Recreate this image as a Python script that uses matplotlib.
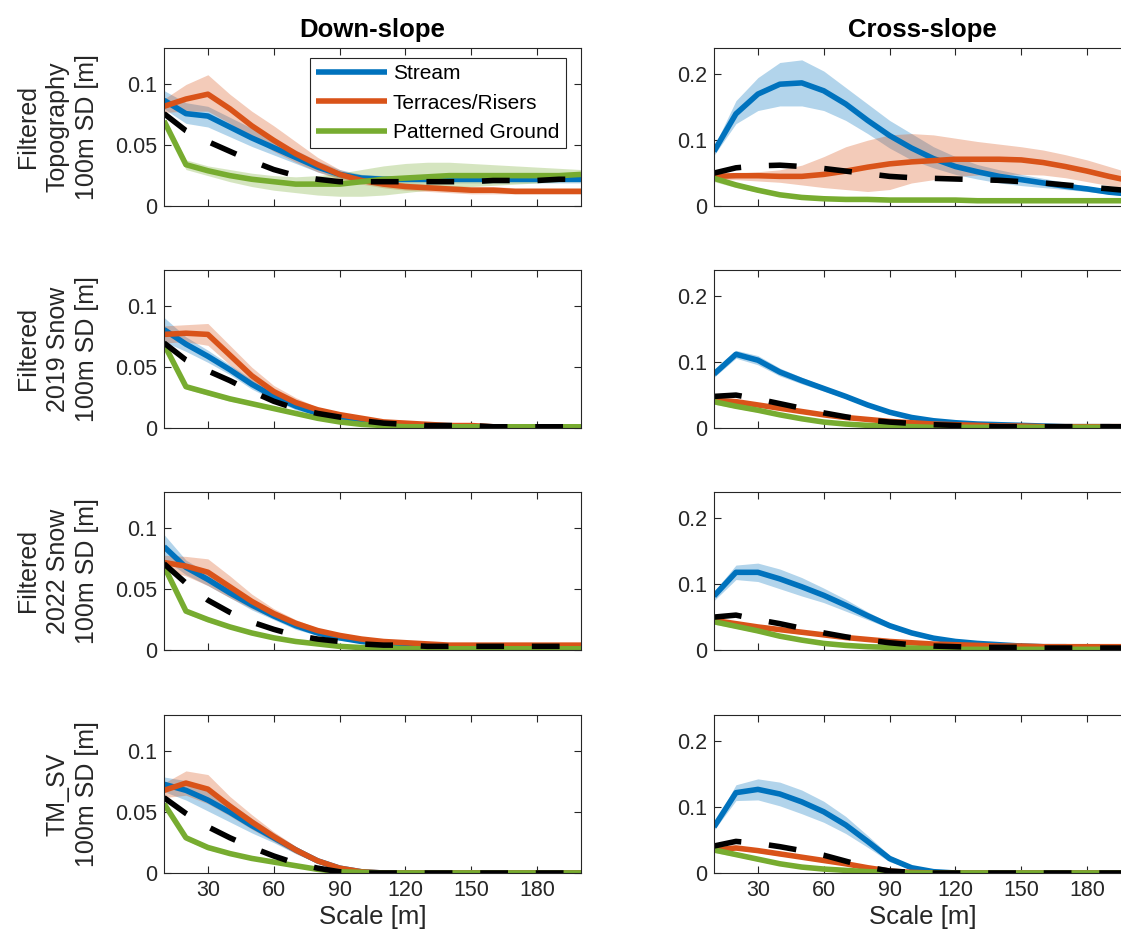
import matplotlib
matplotlib.use("Agg")
import matplotlib.pyplot as plt
import numpy as np

plt.rcParams['font.family'] = ['Liberation Sans', 'DejaVu Sans']

# scale [m]
scale = [10, 20, 30, 40, 50, 60, 70, 80, 90, 100, 110, 120, 130, 140, 150, 160, 170, 180, 190, 200]

names = ['Stream', 'Terraces/Risers', 'Patterned Ground']
c_stream = '#0072BD'
c_terr = '#D95319'
c_pat = '#77AC30'

row_labels = ['Filtered\nTopography\n100m SD [m]', 'Filtered\n2019 Snow\n100m SD [m]',
              'Filtered\n2022 Snow\n100m SD [m]', 'TM_SV\n100m SD [m]']
col_titles = ['Down-slope', 'Cross-slope']

# ---- row 1: topography (bands given as lower/upper) ----
topo_down_stream = [0.087, 0.076, 0.074, 0.065, 0.056, 0.048, 0.040, 0.032, 0.026, 0.023, 0.022, 0.022, 0.022, 0.022, 0.022, 0.022, 0.022, 0.022, 0.022, 0.022]
topo_down_stream_lo = [0.080, 0.068, 0.065, 0.057, 0.049, 0.042, 0.035, 0.028, 0.023, 0.020, 0.019, 0.019, 0.019, 0.019, 0.019, 0.019, 0.019, 0.019, 0.019, 0.019]
topo_down_stream_hi = [0.095, 0.085, 0.082, 0.073, 0.064, 0.055, 0.046, 0.037, 0.030, 0.026, 0.025, 0.025, 0.025, 0.025, 0.025, 0.025, 0.025, 0.025, 0.025, 0.025]
topo_down_terr = [0.082, 0.088, 0.092, 0.080, 0.066, 0.054, 0.043, 0.034, 0.026, 0.021, 0.018, 0.016, 0.015, 0.014, 0.013, 0.013, 0.012, 0.012, 0.012, 0.012]
topo_down_terr_lo = [0.077, 0.078, 0.078, 0.068, 0.056, 0.045, 0.036, 0.028, 0.022, 0.018, 0.015, 0.013, 0.012, 0.011, 0.010, 0.010, 0.010, 0.010, 0.010, 0.010]
topo_down_terr_hi = [0.088, 0.100, 0.108, 0.092, 0.078, 0.066, 0.053, 0.040, 0.030, 0.024, 0.021, 0.019, 0.018, 0.017, 0.016, 0.016, 0.015, 0.015, 0.015, 0.015]
topo_down_pat = [0.070, 0.034, 0.029, 0.025, 0.022, 0.020, 0.018, 0.018, 0.018, 0.020, 0.022, 0.023, 0.024, 0.025, 0.025, 0.025, 0.025, 0.025, 0.025, 0.026]
topo_down_pat_lo = [0.068, 0.030, 0.025, 0.020, 0.016, 0.013, 0.011, 0.009, 0.008, 0.008, 0.009, 0.011, 0.013, 0.015, 0.016, 0.017, 0.018, 0.019, 0.020, 0.020]
topo_down_pat_hi = [0.072, 0.038, 0.033, 0.030, 0.027, 0.025, 0.024, 0.025, 0.027, 0.030, 0.033, 0.035, 0.036, 0.036, 0.035, 0.034, 0.033, 0.032, 0.031, 0.030]
topo_down_all = [0.076, 0.062, 0.053, 0.045, 0.037, 0.030, 0.025, 0.022, 0.020, 0.020, 0.020, 0.020, 0.020, 0.020, 0.020, 0.021, 0.021, 0.021, 0.022, 0.022]

topo_cross_stream = [0.083, 0.140, 0.170, 0.185, 0.187, 0.175, 0.155, 0.130, 0.107, 0.088, 0.072, 0.060, 0.052, 0.045, 0.040, 0.035, 0.030, 0.026, 0.021, 0.018]
topo_cross_stream_lo = [0.077, 0.125, 0.145, 0.152, 0.152, 0.145, 0.130, 0.110, 0.088, 0.070, 0.058, 0.048, 0.041, 0.035, 0.031, 0.028, 0.025, 0.022, 0.018, 0.015]
topo_cross_stream_hi = [0.090, 0.160, 0.195, 0.218, 0.222, 0.205, 0.180, 0.155, 0.130, 0.110, 0.090, 0.075, 0.063, 0.055, 0.048, 0.042, 0.036, 0.030, 0.025, 0.021]
topo_cross_terr = [0.045, 0.046, 0.046, 0.045, 0.045, 0.048, 0.053, 0.059, 0.064, 0.067, 0.069, 0.071, 0.071, 0.071, 0.070, 0.066, 0.060, 0.053, 0.045, 0.038]
topo_cross_terr_lo = [0.040, 0.040, 0.038, 0.036, 0.032, 0.028, 0.025, 0.022, 0.025, 0.035, 0.040, 0.045, 0.047, 0.048, 0.048, 0.047, 0.043, 0.037, 0.031, 0.027]
topo_cross_terr_hi = [0.048, 0.050, 0.052, 0.055, 0.062, 0.075, 0.090, 0.100, 0.108, 0.110, 0.108, 0.103, 0.098, 0.094, 0.090, 0.085, 0.078, 0.070, 0.060, 0.050]
topo_cross_pat = [0.042, 0.032, 0.024, 0.017, 0.013, 0.011, 0.010, 0.010, 0.009, 0.009, 0.009, 0.009, 0.008, 0.008, 0.008, 0.008, 0.008, 0.008, 0.008, 0.008]
topo_cross_pat_lo = [0.037, 0.028, 0.021, 0.015, 0.011, 0.009, 0.008, 0.008, 0.007, 0.007, 0.007, 0.007, 0.006, 0.006, 0.006, 0.006, 0.006, 0.006, 0.006, 0.006]
topo_cross_pat_hi = [0.046, 0.036, 0.027, 0.020, 0.015, 0.013, 0.012, 0.012, 0.011, 0.011, 0.011, 0.011, 0.010, 0.010, 0.010, 0.010, 0.010, 0.010, 0.010, 0.010]
topo_cross_all = [0.050, 0.058, 0.061, 0.062, 0.060, 0.057, 0.053, 0.049, 0.045, 0.043, 0.042, 0.041, 0.040, 0.039, 0.037, 0.035, 0.032, 0.029, 0.026, 0.023]

# ---- rows 2-4: snow / TM_SV (bands given as half-width) ----
snow19_down_stream = [0.081, 0.069, 0.059, 0.048, 0.036, 0.026, 0.018, 0.012, 0.008, 0.005, 0.003, 0.002, 0.002, 0.002, 0.001, 0.001, 0.001, 0.001, 0.001, 0.001]
snow19_down_stream_sd = [0.010, 0.006, 0.005, 0.004, 0.004, 0.003, 0.003, 0.002, 0.002, 0.001, 0.001, 0.001, 0.001, 0.001, 0.001, 0.001, 0.001, 0.001, 0.001, 0.001]
snow19_down_terr = [0.077, 0.078, 0.077, 0.060, 0.043, 0.030, 0.021, 0.015, 0.011, 0.008, 0.005, 0.004, 0.003, 0.002, 0.002, 0.001, 0.001, 0.001, 0.001, 0.001]
snow19_down_terr_sd = [0.007, 0.007, 0.009, 0.008, 0.007, 0.005, 0.004, 0.002, 0.002, 0.001, 0.001, 0.001, 0.001, 0.001, 0.001, 0.001, 0.001, 0.001, 0.001, 0.001]
snow19_down_pat = [0.069, 0.034, 0.029, 0.024, 0.020, 0.016, 0.012, 0.008, 0.005, 0.003, 0.002, 0.001, 0.001, 0.001, 0.001, 0.001, 0.001, 0.001, 0.001, 0.001]
snow19_down_pat_sd = [0.002, 0.002, 0.002, 0.002, 0.001, 0.001, 0.001, 0.001, 0.001, 0.001, 0.001, 0.001, 0.001, 0.001, 0.001, 0.001, 0.001, 0.001, 0.001, 0.001]
snow19_down_all = [0.070, 0.056, 0.047, 0.039, 0.030, 0.022, 0.016, 0.012, 0.009, 0.006, 0.004, 0.003, 0.002, 0.002, 0.002, 0.001, 0.001, 0.001, 0.001, 0.001]

snow19_cross_stream = [0.082, 0.112, 0.103, 0.085, 0.072, 0.060, 0.048, 0.035, 0.024, 0.016, 0.011, 0.008, 0.006, 0.005, 0.004, 0.003, 0.002, 0.002, 0.002, 0.001]
snow19_cross_stream_sd = [0.005, 0.006, 0.007, 0.006, 0.005, 0.004, 0.003, 0.002, 0.002, 0.001, 0.001, 0.001, 0.001, 0.001, 0.001, 0.001, 0.001, 0.001, 0.001, 0.001]
snow19_cross_terr = [0.042, 0.040, 0.035, 0.030, 0.025, 0.020, 0.016, 0.013, 0.010, 0.008, 0.006, 0.005, 0.004, 0.003, 0.003, 0.002, 0.002, 0.002, 0.002, 0.002]
snow19_cross_terr_sd = [0.003, 0.003, 0.003, 0.002, 0.002, 0.002, 0.001, 0.001, 0.001, 0.001, 0.001, 0.001, 0.001, 0.001, 0.001, 0.001, 0.001, 0.001, 0.001, 0.001]
snow19_cross_pat = [0.040, 0.033, 0.027, 0.020, 0.014, 0.009, 0.006, 0.004, 0.003, 0.002, 0.001, 0.001, 0.001, 0.001, 0.001, 0.001, 0.001, 0.001, 0.001, 0.001]
snow19_cross_pat_sd = [0.004, 0.003, 0.003, 0.002, 0.002, 0.001, 0.001, 0.001, 0.001, 0.001, 0.001, 0.001, 0.001, 0.001, 0.001, 0.001, 0.001, 0.001, 0.001, 0.001]
snow19_cross_all = [0.048, 0.050, 0.044, 0.037, 0.030, 0.023, 0.017, 0.012, 0.009, 0.007, 0.005, 0.004, 0.003, 0.002, 0.002, 0.002, 0.002, 0.002, 0.002, 0.002]

snow22_down_stream = [0.085, 0.068, 0.058, 0.047, 0.037, 0.028, 0.020, 0.014, 0.010, 0.007, 0.005, 0.004, 0.003, 0.003, 0.003, 0.003, 0.003, 0.003, 0.003, 0.003]
snow22_down_stream_sd = [0.010, 0.006, 0.005, 0.004, 0.004, 0.003, 0.003, 0.002, 0.002, 0.001, 0.001, 0.001, 0.001, 0.001, 0.001, 0.001, 0.001, 0.001, 0.001, 0.001]
snow22_down_terr = [0.072, 0.069, 0.064, 0.052, 0.040, 0.030, 0.022, 0.016, 0.012, 0.009, 0.007, 0.006, 0.005, 0.004, 0.004, 0.004, 0.004, 0.004, 0.004, 0.004]
snow22_down_terr_sd = [0.006, 0.008, 0.011, 0.009, 0.006, 0.004, 0.003, 0.002, 0.002, 0.001, 0.001, 0.001, 0.001, 0.001, 0.001, 0.001, 0.001, 0.001, 0.001, 0.001]
snow22_down_pat = [0.069, 0.032, 0.025, 0.019, 0.014, 0.010, 0.007, 0.005, 0.003, 0.002, 0.002, 0.001, 0.001, 0.001, 0.001, 0.001, 0.001, 0.001, 0.001, 0.001]
snow22_down_pat_sd = [0.002, 0.002, 0.002, 0.001, 0.001, 0.001, 0.001, 0.001, 0.001, 0.001, 0.001, 0.001, 0.001, 0.001, 0.001, 0.001, 0.001, 0.001, 0.001, 0.001]
snow22_down_all = [0.071, 0.055, 0.041, 0.031, 0.023, 0.017, 0.012, 0.009, 0.007, 0.005, 0.004, 0.004, 0.003, 0.003, 0.003, 0.003, 0.003, 0.003, 0.003, 0.003]

snow22_cross_stream = [0.082, 0.118, 0.118, 0.108, 0.096, 0.083, 0.068, 0.052, 0.037, 0.026, 0.018, 0.013, 0.010, 0.008, 0.006, 0.005, 0.005, 0.004, 0.004, 0.004]
snow22_cross_stream_sd = [0.007, 0.011, 0.014, 0.015, 0.014, 0.011, 0.009, 0.006, 0.004, 0.003, 0.002, 0.001, 0.001, 0.001, 0.001, 0.001, 0.001, 0.001, 0.001, 0.001]
snow22_cross_terr = [0.045, 0.040, 0.035, 0.031, 0.027, 0.023, 0.019, 0.016, 0.013, 0.011, 0.009, 0.008, 0.007, 0.006, 0.006, 0.005, 0.005, 0.005, 0.005, 0.005]
snow22_cross_terr_sd = [0.004, 0.003, 0.003, 0.003, 0.003, 0.002, 0.002, 0.002, 0.001, 0.001, 0.001, 0.001, 0.001, 0.001, 0.001, 0.001, 0.001, 0.001, 0.001, 0.001]
snow22_cross_pat = [0.043, 0.036, 0.029, 0.021, 0.015, 0.010, 0.007, 0.005, 0.004, 0.003, 0.002, 0.001, 0.001, 0.001, 0.001, 0.001, 0.001, 0.001, 0.001, 0.001]
snow22_cross_pat_sd = [0.004, 0.003, 0.003, 0.002, 0.002, 0.001, 0.001, 0.001, 0.001, 0.001, 0.001, 0.001, 0.001, 0.001, 0.001, 0.001, 0.001, 0.001, 0.001, 0.001]
snow22_cross_all = [0.050, 0.053, 0.046, 0.040, 0.033, 0.026, 0.020, 0.015, 0.011, 0.008, 0.006, 0.005, 0.004, 0.004, 0.004, 0.003, 0.003, 0.003, 0.003, 0.003]

tmsv_down_stream = [0.073, 0.068, 0.060, 0.050, 0.039, 0.029, 0.019, 0.010, 0.004, 0.001, 0.0, 0.0, 0.0, 0.0, 0.0, 0.0, 0.0, 0.0, 0.0, 0.0]
tmsv_down_stream_sd = [0.006, 0.008, 0.009, 0.008, 0.006, 0.004, 0.003, 0.002, 0.001, 0.0, 0.0, 0.0, 0.0, 0.0, 0.0, 0.0, 0.0, 0.0, 0.0, 0.0]
tmsv_down_terr = [0.068, 0.074, 0.069, 0.055, 0.042, 0.030, 0.019, 0.010, 0.004, 0.001, 0.0, 0.0, 0.0, 0.0, 0.0, 0.0, 0.0, 0.0, 0.0, 0.0]
tmsv_down_terr_sd = [0.006, 0.010, 0.012, 0.008, 0.006, 0.004, 0.003, 0.002, 0.001, 0.0, 0.0, 0.0, 0.0, 0.0, 0.0, 0.0, 0.0, 0.0, 0.0, 0.0]
tmsv_down_pat = [0.057, 0.029, 0.021, 0.016, 0.012, 0.009, 0.006, 0.003, 0.001, 0.0005, 0.0, 0.0, 0.0, 0.0, 0.0, 0.0, 0.0, 0.0, 0.0, 0.0]
tmsv_down_pat_sd = [0.002, 0.002, 0.002, 0.001, 0.001, 0.001, 0.001, 0.001, 0.0, 0.0, 0.0, 0.0, 0.0, 0.0, 0.0, 0.0, 0.0, 0.0, 0.0, 0.0]
tmsv_down_all = [0.062, 0.049, 0.038, 0.029, 0.021, 0.014, 0.008, 0.004, 0.001, 0.0, 0.0, 0.0, 0.0, 0.0, 0.0, 0.0, 0.0, 0.0, 0.0, 0.0]

tmsv_cross_stream = [0.070, 0.122, 0.127, 0.120, 0.108, 0.093, 0.073, 0.048, 0.022, 0.008, 0.002, 0.0, 0.0, 0.0, 0.0, 0.0, 0.0, 0.0, 0.0, 0.0]
tmsv_cross_stream_sd = [0.005, 0.012, 0.016, 0.018, 0.018, 0.016, 0.013, 0.009, 0.005, 0.002, 0.001, 0.0, 0.0, 0.0, 0.0, 0.0, 0.0, 0.0, 0.0, 0.0]
tmsv_cross_terr = [0.035, 0.038, 0.034, 0.029, 0.024, 0.019, 0.014, 0.008, 0.003, 0.001, 0.0, 0.0, 0.0, 0.0, 0.0, 0.0, 0.0, 0.0, 0.0, 0.0]
tmsv_cross_terr_sd = [0.003, 0.003, 0.003, 0.003, 0.002, 0.002, 0.002, 0.001, 0.001, 0.0, 0.0, 0.0, 0.0, 0.0, 0.0, 0.0, 0.0, 0.0, 0.0, 0.0]
tmsv_cross_pat = [0.035, 0.028, 0.021, 0.014, 0.009, 0.006, 0.004, 0.002, 0.001, 0.0, 0.0, 0.0, 0.0, 0.0, 0.0, 0.0, 0.0, 0.0, 0.0, 0.0]
tmsv_cross_pat_sd = [0.004, 0.003, 0.003, 0.002, 0.002, 0.001, 0.001, 0.001, 0.0, 0.0, 0.0, 0.0, 0.0, 0.0, 0.0, 0.0, 0.0, 0.0, 0.0, 0.0]
tmsv_cross_all = [0.041, 0.048, 0.045, 0.040, 0.034, 0.027, 0.018, 0.009, 0.003, 0.001, 0.0, 0.0, 0.0, 0.0, 0.0, 0.0, 0.0, 0.0, 0.0, 0.0]


def band(mean, sd):
    m = np.array(mean)
    s = np.array(sd)
    return np.clip(m - s, 0, None), m + s


panels = [
    [(topo_down_stream, topo_down_stream_lo, topo_down_stream_hi,
      topo_down_terr, topo_down_terr_lo, topo_down_terr_hi,
      topo_down_pat, topo_down_pat_lo, topo_down_pat_hi, topo_down_all),
     (topo_cross_stream, topo_cross_stream_lo, topo_cross_stream_hi,
      topo_cross_terr, topo_cross_terr_lo, topo_cross_terr_hi,
      topo_cross_pat, topo_cross_pat_lo, topo_cross_pat_hi, topo_cross_all)],
]
for grp in [
    [(snow19_down_stream, snow19_down_stream_sd, snow19_down_terr, snow19_down_terr_sd,
      snow19_down_pat, snow19_down_pat_sd, snow19_down_all),
     (snow19_cross_stream, snow19_cross_stream_sd, snow19_cross_terr, snow19_cross_terr_sd,
      snow19_cross_pat, snow19_cross_pat_sd, snow19_cross_all)],
    [(snow22_down_stream, snow22_down_stream_sd, snow22_down_terr, snow22_down_terr_sd,
      snow22_down_pat, snow22_down_pat_sd, snow22_down_all),
     (snow22_cross_stream, snow22_cross_stream_sd, snow22_cross_terr, snow22_cross_terr_sd,
      snow22_cross_pat, snow22_cross_pat_sd, snow22_cross_all)],
    [(tmsv_down_stream, tmsv_down_stream_sd, tmsv_down_terr, tmsv_down_terr_sd,
      tmsv_down_pat, tmsv_down_pat_sd, tmsv_down_all),
     (tmsv_cross_stream, tmsv_cross_stream_sd, tmsv_cross_terr, tmsv_cross_terr_sd,
      tmsv_cross_pat, tmsv_cross_pat_sd, tmsv_cross_all)],
]:
    row = []
    for (s, s_sd, t, t_sd, p, p_sd, a) in grp:
        s_lo, s_hi = band(s, s_sd)
        t_lo, t_hi = band(t, t_sd)
        p_lo, p_hi = band(p, p_sd)
        row.append((s, s_lo, s_hi, t, t_lo, t_hi, p, p_lo, p_hi, a))
    panels.append(row)

W, H = 1121, 942
fig = plt.figure(figsize=(W / 100, H / 100), dpi=100)

ax_left_px = [164, 714]
ax_w_px = 417
ax_h_px = 158
row_top_px = [48, 270, 492, 715]
ylims = [0.13, 0.24]
yticks = [[0, 0.05, 0.1], [0, 0.1, 0.2]]
yticklabels = [['0', '0.05', '0.1'], ['0', '0.1', '0.2']]
dark = '#262626'
lw = 4.0

for r in range(4):
    for c in range(2):
        ax = fig.add_axes([ax_left_px[c] / W, 1 - (row_top_px[r] + ax_h_px) / H,
                           ax_w_px / W, ax_h_px / H])
        s, s_lo, s_hi, t, t_lo, t_hi, p, p_lo, p_hi, a = panels[r][c]
        ax.fill_between(scale, s_lo, s_hi, color=c_stream, alpha=0.3, lw=0)
        ax.fill_between(scale, t_lo, t_hi, color=c_terr, alpha=0.3, lw=0)
        ax.fill_between(scale, p_lo, p_hi, color=c_pat, alpha=0.3, lw=0)
        ax.plot(scale, s, color=c_stream, lw=lw, label=names[0], solid_capstyle='butt')
        ax.plot(scale, t, color=c_terr, lw=lw, label=names[1], solid_capstyle='butt')
        ax.plot(scale, p, color=c_pat, lw=lw, label=names[2], solid_capstyle='butt')
        ax.plot(scale, a, color='black', lw=lw, dashes=(5, 5), dash_capstyle='butt')

        ax.set_xlim(10, 200)
        ax.set_ylim(0, ylims[c])
        ax.set_xticks([30, 60, 90, 120, 150, 180])
        ax.set_yticks(yticks[c])
        ax.set_yticklabels(yticklabels[c])
        ax.tick_params(direction='in', top=True, right=True, length=5, width=0.8,
                       colors=dark, labelsize=15.5, pad=5)
        for sp in ax.spines.values():
            sp.set_color(dark)
            sp.set_linewidth(0.8)
        if r < 3:
            ax.set_xticklabels([])
        else:
            ax.set_xlabel('Scale [m]', fontsize=18.5, color=dark, labelpad=3)
        if c == 0:
            ylab = ax.set_ylabel(row_labels[r], fontsize=18, color=dark)
            ylab.set_linespacing(1.3)
            ax.yaxis.set_label_coords(-0.155, 0.5)
        if r == 0:
            ax.set_title(col_titles[c], fontsize=18.5, fontweight='bold', pad=8)
        if r == 0 and c == 0:
            leg = ax.legend(loc='upper right', bbox_to_anchor=(0.963, 0.937),
                            fontsize=15, frameon=True, fancybox=False,
                            edgecolor=dark, framealpha=1, borderaxespad=0,
                            handlelength=3.4, handletextpad=0.3, labelspacing=0.5,
                            borderpad=0.3)
            leg.get_frame().set_linewidth(0.8)

fig.savefig('out.png', dpi=100)
